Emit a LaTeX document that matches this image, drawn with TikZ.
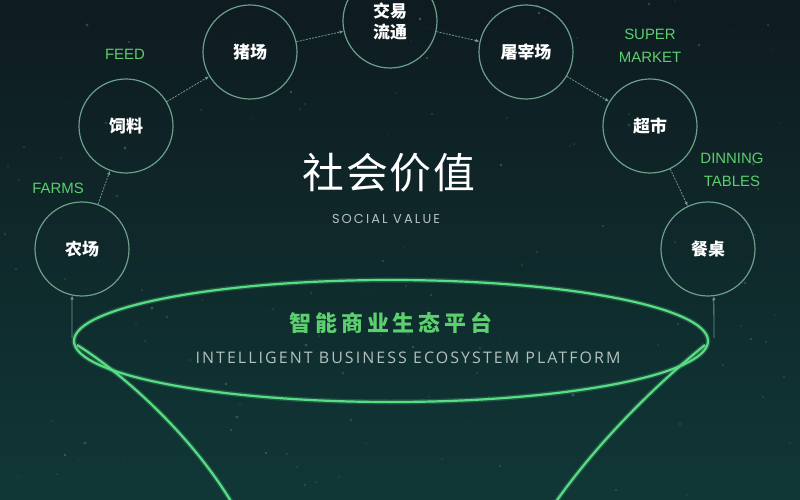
\documentclass[tikz,border=0pt]{standalone}
\usepackage{fontspec}
\setmainfont{Liberation Sans}
\newfontfamily\cjk{Noto Sans CJK SC}
\newfontfamily\cjkwide[LetterSpace=4]{Noto Sans CJK SC}
\newfontfamily\cjkplat[LetterSpace=18]{Noto Sans CJK SC}
\newfontfamily\platsans[LetterSpace=13]{Open Sans}
\newfontfamily\socsans[LetterSpace=16]{Poppins}
\usetikzlibrary{arrows.meta,calc,shapes.geometric}
\definecolor{bgtop}{HTML}{0E1B20}
\definecolor{bgbot}{HTML}{103736}
\definecolor{ringc}{HTML}{6A9E8A}
\definecolor{linec}{HTML}{6F9889}
\definecolor{lblgreen}{HTML}{5CCF6E}
\definecolor{funnelg}{HTML}{58DC84}
\definecolor{subgray}{HTML}{B4C2BE}
\definecolor{stardot}{HTML}{5E8580}
\tikzset{
  stage/.style={circle, draw=ringc, line width=1.2bp, minimum size=94bp, inner sep=0pt,
    text=white, align=center, font=\cjk\bfseries\fontsize{17}{21}\selectfont},
  conn/.style={draw=linec, line width=0.8bp, dash pattern=on 2bp off 1.2bp,
    -{Latex[length=4bp,width=3.5bp]}},
  lbl/.style={text=lblgreen, align=center, inner sep=0pt,
    font=\fontsize{15}{23}\selectfont},
  glowline/.style={draw=funnelg, line width=5bp, draw opacity=0.22},
  brightline/.style={draw=funnelg, line width=2.2bp}
}
\begin{document}
\begin{tikzpicture}[x=1bp,y=-1bp]
\begin{scope}[y=1bp]
  \shade[top color=bgtop, bottom color=bgbot] (0,-500) rectangle (800,0);
\end{scope}
\useasboundingbox (0,0) rectangle (800,500);
% stars
\pgfmathsetseed{7}
\foreach \i in {1,...,140}{
  \pgfmathsetmacro{\sx}{random(0,800)}
  \pgfmathsetmacro{\sy}{random(0,500)}
  \pgfmathsetmacro{\sr}{0.6+rnd*1.1}
  \pgfmathsetmacro{\so}{0.15+rnd*0.35}
  \fill[stardot, opacity=\so] (\sx,\sy) circle[radius=\sr];
}
% stage circles
\node[stage] (farm) at (82,249) {农场};
\node[stage] (feed) at (126,126) {饲料};
\node[stage] (pig) at (250,52) {猪场};
\node[stage] (trade) at (390,21) {交易\\流通};
\node[stage] (slaughter) at (526,52) {屠宰场};
\node[stage] (market) at (650,126) {超市};
\node[stage] (table) at (708,249) {餐桌};
% connectors
\draw[conn] (farm) -- (feed);
\draw[conn] (feed) -- (pig);
\draw[conn] (pig) -- (trade);
\draw[conn] (trade) -- (slaughter);
\draw[conn] (slaughter) -- (market);
\draw[conn] (market) -- (table);
% green labels
\node[lbl] (lfeed) at (125,54) {FEED};
\node[lbl] (lfarms) at (58,188) {FARMS};
\node[lbl] (lsuper) at (650,46) {SUPER\\MARKET};
\node[lbl] (ldin) at (732,170) {DINNING\\TABLES};
% centre titles
\node[text=white, font=\cjkwide\fontsize{42}{42}\selectfont] (title) at (389,173) {社会价值};
\node[text=subgray, font=\socsans\fontsize{13}{13}\selectfont] (sub) at (386,219) {SOCIAL VALUE};
% funnel
\node[ellipse, glowline, minimum width=634bp, minimum height=122bp, inner sep=0pt] (funnelglow) at (391,341) {};
\node[ellipse, brightline, minimum width=634bp, minimum height=122bp, inner sep=0pt] (funnel) at (391,341) {};
\coordinate (ltop) at (77,345);
\coordinate (lbot) at (232,503);
\coordinate (rtop) at (705,345);
\coordinate (rbot) at (555,503);
\draw[glowline] (ltop) .. controls (110,365) and (185,425) .. (lbot);
\draw[brightline] (ltop) .. controls (110,365) and (185,425) .. (lbot);
\draw[glowline] (rtop) .. controls (680,365) and (610,425) .. (rbot);
\draw[brightline] (rtop) .. controls (680,365) and (610,425) .. (rbot);
\node[text=lblgreen, font=\cjkplat\bfseries\fontsize{22}{22}\selectfont] (plat) at (391,323) {智能商业生态平台};
\node[text=subgray, font=\platsans\fontsize{16}{16}\selectfont] (platen) at (408,358) {INTELLIGENT BUSINESS ECOSYSTEM PLATFORM};
% rising lines into the chain
\coordinate (fl) at (72,338);
\coordinate (fr) at (714,338);
\draw[conn, dash pattern=] (fl) -- (farm.-102);
\draw[conn, dash pattern=] (fr) -- (table.-83);
\end{tikzpicture}
\end{document}
